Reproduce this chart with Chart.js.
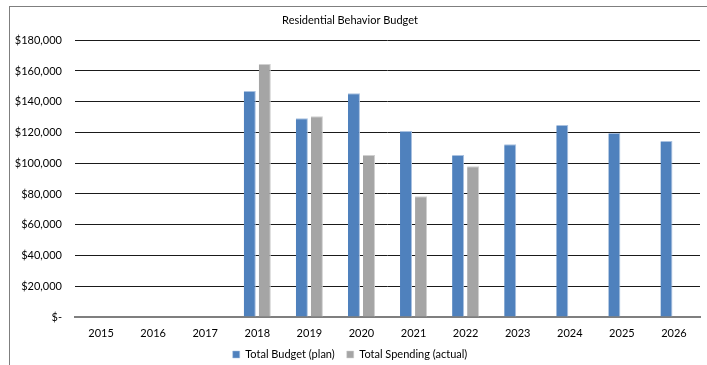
<!DOCTYPE html>
<html>
<head>
<meta charset="utf-8">
<script src="https://cdn.jsdelivr.net/npm/chart.js@4/dist/chart.umd.min.js"></script>
<style>
  html, body { margin: 0; padding: 0; background: #fff; overflow: hidden; }
  #frame { position: absolute; left: 9px; top: 6px; width: 760px; height: 420px; border: 1px solid #7f7f7f; }
  #wrap { position: absolute; left: 0; top: 0; width: 707px; height: 365px; }
</style>
</head>
<body>
<div id="frame"></div>
<div id="wrap"><canvas id="chart"></canvas></div>
<script>
// categories and series
const years = ['2015', '2016', '2017', '2018', '2019', '2020', '2021', '2022', '2023', '2024', '2025', '2026'];
const budgetPlan = [null, null, null, 147000, 129300, 145500, 121000, 105300, 112400, 124800, 119600, 114400];
const spendingActual = [null, null, null, 164500, 130600, 105300, 78600, 98100, null, null, null, null];
const yTicks = [0, 20000, 40000, 60000, 80000, 100000, 120000, 140000, 160000, 180000];

const FONT = 'Lato, "Liberation Sans", sans-serif';

function money(v) {
    if (v === 0) return '$-';
    return '$' + v.toLocaleString('en-US');
}

new Chart(document.getElementById('chart'), {
    type: 'bar',
    data: {
        labels: years,
        datasets: [
            {
                label: 'Total Budget (plan)',
                data: budgetPlan,
                backgroundColor: '#4F81BD',
                borderColor: '#A9C1E0',
                borderWidth: { left: 0, right: 1, top: 1, bottom: 0 },
                barPercentage: 0.8,
                categoryPercentage: 0.577
            },
            {
                label: 'Total Spending (actual)',
                data: spendingActual,
                backgroundColor: '#A5A5A5',
                borderColor: '#D0D0D0',
                borderWidth: { left: 0, right: 1, top: 1, bottom: 0 },
                barPercentage: 0.8,
                categoryPercentage: 0.577
            }
        ]
    },
    options: {
        responsive: true,
        maintainAspectRatio: false,
        animation: false,
        layout: { padding: { left: 0, right: 7, top: 0, bottom: -5 } },
        plugins: {
            title: {
                display: true,
                text: 'Residential Behavior Budget',
                color: '#000',
                font: { family: FONT, size: 11, weight: 'normal' },
                padding: { top: 14, bottom: 13 }
            },
            legend: {
                position: 'bottom',
                labels: {
                    color: '#000',
                    font: { family: FONT, size: 11 },
                    boxWidth: 7,
                    boxHeight: 7,
                    padding: 12
                }
            },
            tooltip: { enabled: false }
        },
        scales: {
            x: {
                afterFit: (scale) => { scale.height = 20; },
                grid: { display: false, drawTicks: false },
                border: { display: true, color: '#7f7f7f', width: 2 },
                ticks: { color: '#000', font: { family: FONT, size: 11 }, padding: 10, maxRotation: 0 }
            },
            y: {
                min: 0,
                max: 180000,
                afterBuildTicks: (scale) => { scale.ticks = yTicks.map(v => ({ value: v })); },
                afterFit: (scale) => { scale.width = 75; },
                grid: { color: '#1a1a1a', lineWidth: 1, drawTicks: false },
                border: { display: false },
                ticks: {
                    color: '#000',
                    font: { family: FONT, size: 11 },
                    padding: 13,
                    callback: (v) => money(v)
                }
            }
        }
    }
});
</script>
</body>
</html>
